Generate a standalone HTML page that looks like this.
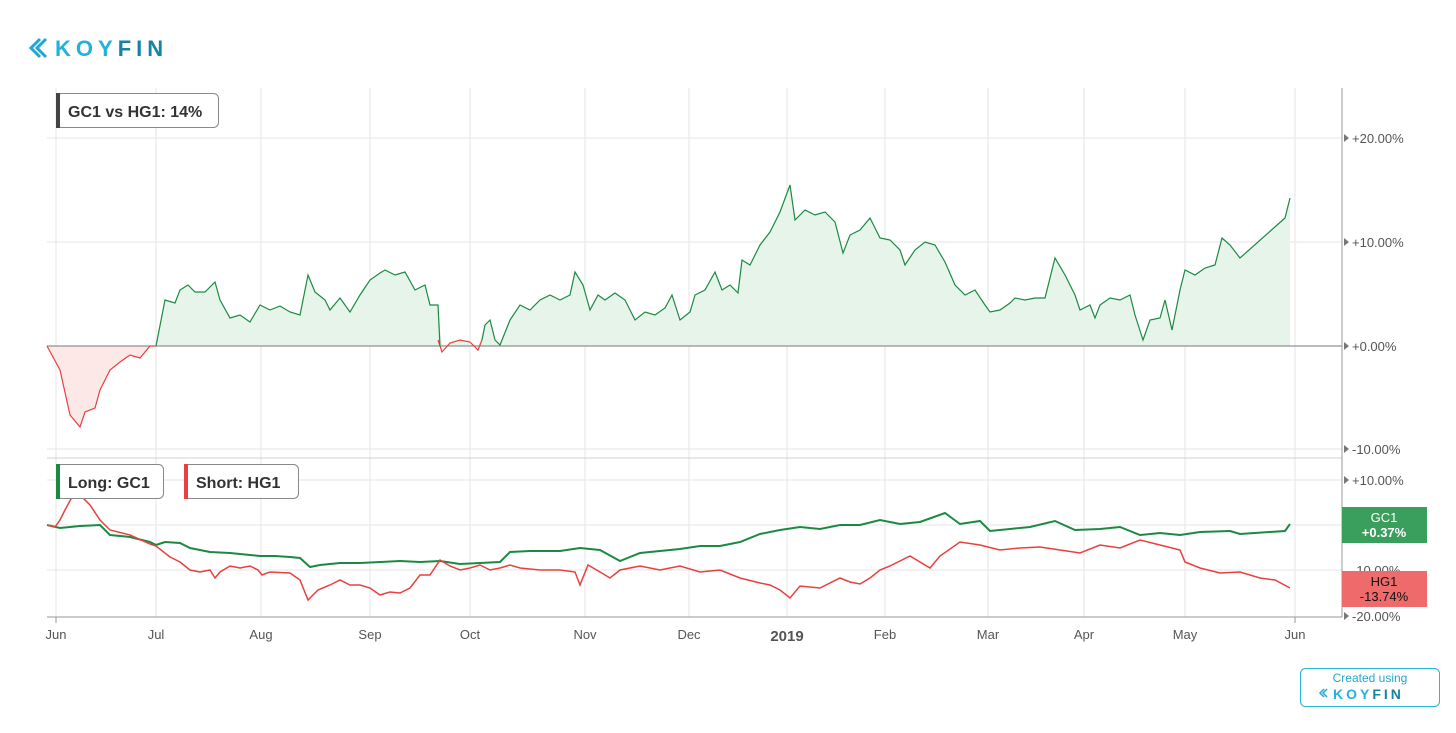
<!DOCTYPE html>
<html><head><meta charset="utf-8"><style>
body{margin:0;background:#fff;font-family:"Liberation Sans",sans-serif;}
svg text{font-family:"Liberation Sans",sans-serif;}
</style></head><body>
<svg width="1456" height="728" viewBox="0 0 1456 728" xmlns="http://www.w3.org/2000/svg">
<rect width="1456" height="728" fill="#fff"/>
<g fill="none" stroke="#1fa8d6" stroke-width="3">
<path d="M40 39 L31 48 L40 57"/><path d="M46 39 L37 48 L46 57"/>
</g>
<text x="55" y="56" font-size="22" font-weight="bold" fill="#22b2dc" letter-spacing="5">KOY<tspan fill="#1582a6">FIN</tspan></text>
<g stroke="#e6e6e6" stroke-width="1">
<line x1="47" y1="138" x2="1342" y2="138"/><line x1="47" y1="242" x2="1342" y2="242"/>
<line x1="47" y1="449" x2="1342" y2="449"/>
<line x1="47" y1="480" x2="1342" y2="480"/><line x1="47" y1="525" x2="1342" y2="525"/><line x1="47" y1="570" x2="1342" y2="570"/>
<line x1="56" y1="88" x2="56" y2="617"/><line x1="156" y1="88" x2="156" y2="617"/><line x1="261" y1="88" x2="261" y2="617"/>
<line x1="370" y1="88" x2="370" y2="617"/><line x1="470" y1="88" x2="470" y2="617"/><line x1="585" y1="88" x2="585" y2="617"/>
<line x1="689" y1="88" x2="689" y2="617"/><line x1="787" y1="88" x2="787" y2="617"/><line x1="885" y1="88" x2="885" y2="617"/>
<line x1="988" y1="88" x2="988" y2="617"/><line x1="1084" y1="88" x2="1084" y2="617"/><line x1="1185" y1="88" x2="1185" y2="617"/>
<line x1="1295" y1="88" x2="1295" y2="617"/>
</g>
<line x1="47" y1="458" x2="1342" y2="458" stroke="#d0d0d0"/>
<polygon fill="#fde8e8" points="47,346 60,370 70,415 80,427 85,412 95,408 100,390 110,370 120,362 130,355 140,358 150,346 156,346"/>
<polygon fill="#e6f4ea" points="156,346 165,300 175,303 180,290 188,285 195,292 205,292 215,282 220,300 230,318 240,315 250,322 260,305 270,310 280,306 290,312 300,315 308,275 315,292 325,300 330,310 340,298 350,312 360,295 370,280 380,273 385,270 395,275 405,272 415,290 425,285 430,305 438,305 442,346 450,343 460,340 470,342 478,346 485,325 490,320 495,340 500,345 510,320 520,305 530,310 540,300 550,295 560,300 570,295 575,272 583,285 590,310 598,295 605,300 615,293 625,300 635,320 645,312 655,315 665,308 672,295 680,320 690,312 695,295 705,290 715,272 722,290 730,285 738,293 742,260 750,265 760,245 770,232 780,212 790,185 795,220 805,210 815,215 825,212 835,222 843,253 850,235 860,230 870,218 880,238 890,240 900,250 905,265 915,250 925,242 935,245 945,262 955,285 965,295 975,290 985,305 990,312 1000,310 1010,303 1015,298 1025,300 1035,298 1045,298 1055,258 1065,275 1075,295 1080,310 1090,305 1095,318 1100,305 1110,298 1120,300 1130,295 1135,315 1143,340 1150,320 1160,318 1165,300 1172,330 1180,290 1185,270 1195,275 1205,268 1215,265 1222,238 1230,245 1240,258 1285,218 1290,198 1290,346"/>
<line x1="47" y1="346" x2="1342" y2="346" stroke="#777" stroke-width="1"/>
<polyline fill="none" stroke="#e8403f" stroke-width="1.2" points="47,346 60,370 70,415 80,427 85,412 95,408 100,390 110,370 120,362 130,355 140,358 150,346 156,346"/>
<polyline fill="none" stroke="#e8403f" stroke-width="1.2" points="438,340 442,352 450,343 460,340 470,342 478,350 482,340"/>
<polyline fill="none" stroke="#1a8a43" stroke-width="1.2" points="156,346 165,300 175,303 180,290 188,285 195,292 205,292 215,282 220,300 230,318 240,315 250,322 260,305 270,310 280,306 290,312 300,315 308,275 315,292 325,300 330,310 340,298 350,312 360,295 370,280 380,273 385,270 395,275 405,272 415,290 425,285 430,305 438,305 440,346"/>
<polyline fill="none" stroke="#1a8a43" stroke-width="1.2" points="482,340 485,325 490,320 495,340 500,345 510,320 520,305 530,310 540,300 550,295 560,300 570,295 575,272 583,285 590,310 598,295 605,300 615,293 625,300 635,320 645,312 655,315 665,308 672,295 680,320 690,312 695,295 705,290 715,272 722,290 730,285 738,293 742,260 750,265 760,245 770,232 780,212 790,185 795,220 805,210 815,215 825,212 835,222 843,253 850,235 860,230 870,218 880,238 890,240 900,250 905,265 915,250 925,242 935,245 945,262 955,285 965,295 975,290 985,305 990,312 1000,310 1010,303 1015,298 1025,300 1035,298 1045,298 1055,258 1065,275 1075,295 1080,310 1090,305 1095,318 1100,305 1110,298 1120,300 1130,295 1135,315 1143,340 1150,320 1160,318 1165,300 1172,330 1180,290 1185,270 1195,275 1205,268 1215,265 1222,238 1230,245 1240,258 1285,218 1290,198"/>
<polyline fill="none" stroke="#1a8a43" stroke-width="2" points="47,525 60,528 80,526 100,525 110,535 130,537 150,542 156,545 165,542 180,543 190,548 210,552 230,553 260,556 275,556 290,557 300,558 310,567 320,565 340,563 360,563 380,562 400,561 420,562 440,561 460,564 480,563 500,562 510,552 530,551 560,551 580,548 600,550 620,561 640,553 660,551 680,549 700,546 720,546 740,542 760,534 780,530 800,527 820,529 840,525 860,525 880,520 900,524 920,522 945,513 960,524 980,521 990,531 1010,529 1030,527 1055,521 1075,530 1100,529 1120,527 1140,535 1160,533 1180,535 1200,532 1230,531 1240,534 1285,531 1290,524"/>
<polyline fill="none" stroke="#e8403f" stroke-width="1.5" points="47,525 55,527 60,520 65,510 72,497 80,495 90,505 100,520 110,530 130,535 150,544 156,546 170,557 180,562 190,570 200,572 210,570 215,578 220,572 230,566 240,568 250,566 258,570 262,575 270,572 290,573 300,580 308,600 318,590 330,585 340,580 350,585 360,585 370,588 380,595 390,592 400,593 410,588 420,575 430,575 440,560 450,566 460,570 470,568 480,565 490,570 500,568 510,565 520,568 540,570 560,570 575,572 580,585 588,565 600,572 610,578 620,570 640,566 660,570 680,566 700,572 720,570 740,578 760,583 770,585 780,590 790,598 800,586 820,588 840,578 850,582 860,584 870,578 880,570 890,566 910,556 930,568 940,556 960,542 980,545 1000,550 1020,548 1040,547 1060,550 1080,553 1100,545 1120,548 1140,540 1160,545 1180,550 1185,562 1200,568 1220,573 1240,572 1260,578 1275,580 1290,588"/>
<line x1="1342" y1="88" x2="1342" y2="617" stroke="#999"/>
<line x1="47" y1="617" x2="1342" y2="617" stroke="#999"/>
<g fill="#777">
<polygon points="1344,134 1349,138 1344,142"/><polygon points="1344,238 1349,242 1344,246"/><polygon points="1344,342 1349,346 1344,350"/><polygon points="1344,445 1349,449 1344,453"/>
<polygon points="1344,476 1349,480 1344,484"/><polygon points="1344,612 1349,616 1344,620"/>
</g>
<g font-size="13" fill="#555">
<text x="1352" y="143">+20.00%</text><text x="1352" y="247">+10.00%</text><text x="1352" y="351">+0.00%</text><text x="1352" y="454">-10.00%</text>
<text x="1352" y="485">+10.00%</text><text x="1352" y="575">-10.00%</text><text x="1352" y="621">-20.00%</text>
</g>
<g stroke="#999"><line x1="56" y1="617" x2="56" y2="623"/><line x1="1295" y1="617" x2="1295" y2="623"/></g>
<g font-size="13" fill="#555" text-anchor="middle">
<text x="56" y="639">Jun</text><text x="156" y="639">Jul</text><text x="261" y="639">Aug</text><text x="370" y="639">Sep</text>
<text x="470" y="639">Oct</text><text x="585" y="639">Nov</text><text x="689" y="639">Dec</text>
<text x="787" y="641" font-weight="bold" font-size="15">2019</text><text x="885" y="639">Feb</text><text x="988" y="639">Mar</text>
<text x="1084" y="639">Apr</text><text x="1185" y="639">May</text><text x="1295" y="639">Jun</text>
</g>
<rect x="1342" y="507" width="85" height="36" fill="#3a9e5c"/>
<text x="1384" y="522" fill="#fff" font-size="13" text-anchor="middle">GC1</text>
<text x="1384" y="537" fill="#fff" font-size="13" font-weight="bold" text-anchor="middle">+0.37%</text>
<rect x="1342" y="571" width="85" height="36" fill="#ef6a6a"/>
<text x="1384" y="586" fill="#111" font-size="13" text-anchor="middle">HG1</text>
<text x="1384" y="601" fill="#111" font-size="13" text-anchor="middle">-13.74%</text>
<rect x="56.5" y="93.5" width="162" height="34" rx="5" fill="#fff" stroke="#888"/>
<rect x="56" y="93" width="4" height="35" fill="#444"/>
<text x="68" y="117" font-size="16" font-weight="bold" fill="#333">GC1 vs HG1: 14%</text>
<rect x="56.5" y="464.5" width="107" height="34" rx="5" fill="#fff" stroke="#888"/>
<rect x="56" y="464" width="4" height="35" fill="#1a8a43"/>
<text x="68" y="488" font-size="16" font-weight="bold" fill="#333">Long: GC1</text>
<rect x="184.5" y="464.5" width="114" height="34" rx="5" fill="#fff" stroke="#888"/>
<rect x="184" y="464" width="4" height="35" fill="#e8403f"/>
<text x="196" y="488" font-size="16" font-weight="bold" fill="#333">Short: HG1</text>
<rect x="1300.5" y="668.5" width="139" height="38" rx="5" fill="#fff" stroke="#29b6d8"/>
<text x="1370" y="682" font-size="12" fill="#22a8d0" text-anchor="middle">Created using</text>
<g fill="none" stroke="#1fa8d6" stroke-width="1.5"><path d="M1324 689 L1320 693 L1324 697"/><path d="M1327 689 L1323 693 L1327 697"/></g>
<text x="1333" y="699" font-size="14" font-weight="bold" fill="#22b2dc" letter-spacing="3">KOY<tspan fill="#1582a6">FIN</tspan></text>
</svg>
</body></html>
